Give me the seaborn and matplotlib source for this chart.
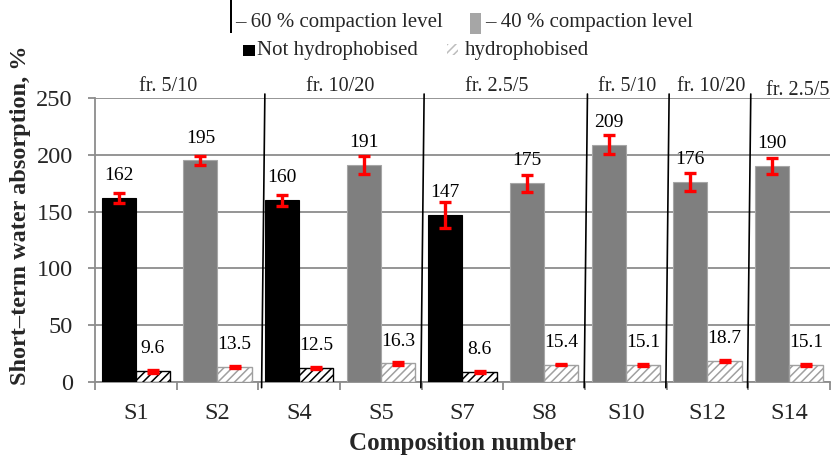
import numpy as np
import pandas as pd
import matplotlib
matplotlib.use("Agg")
import matplotlib.pyplot as plt
from matplotlib.patches import Rectangle
import seaborn as sns

# ---- data ----
compositions = ["S1", "S2", "S4", "S5", "S7", "S8", "S10", "S12", "S14"]
compaction = ["60", "40", "60", "40", "60", "40", "40", "40", "40"]
not_hydro = [162, 195, 160, 191, 147, 175, 209, 176, 190]
not_hydro_err = [4.2, 4.0, 4.8, 8.0, 11.5, 7.5, 8.0, 8.3, 7.0]
hydro = [9.6, 13.5, 12.5, 16.3, 8.6, 15.4, 15.1, 18.7, 15.1]
hydro_err = [1.3, 1.0, 0.9, 1.4, 1.0, 0.8, 1.0, 0.8, 0.8]
groups = ["fr. 5/10", "fr. 10/20", "fr. 2.5/5", "fr. 5/10", "fr. 10/20", "fr. 2.5/5"]
group_sizes = [2, 2, 2, 1, 1, 1]

sns.set_theme(style="white")
plt.rcParams["font.family"] = ["Liberation Serif", "DejaVu Serif"]
plt.rcParams["hatch.linewidth"] = 1.1

df = pd.DataFrame({
    "comp": compositions * 2,
    "kind": ["Not hydrophobised"] * 9 + ["hydrophobised"] * 9,
    "value": not_hydro + hydro,
})

W, H = 834, 463
fig = plt.figure(figsize=(W / 100, H / 100), dpi=100)
ax = fig.add_axes([95 / W, 1 - 382 / H, 735 / W, 284 / H])

sns.barplot(data=df, x="comp", y="value", hue="kind", order=compositions,
            hue_order=["Not hydrophobised", "hydrophobised"],
            width=0.84, gap=0, errorbar=None, legend=False, ax=ax, zorder=3)

GRAY = "#7f7f7f"
main_bars = ax.containers[0]
hyd_bars = ax.containers[1]
for i, p in enumerate(main_bars):
    if compaction[i] == "60":
        p.set_facecolor("black"); p.set_edgecolor("black")
    else:
        p.set_facecolor(GRAY); p.set_edgecolor("#a6a6a6")
    p.set_linewidth(0.8)
for i, p in enumerate(hyd_bars):
    p.set_facecolor("white")
    p.set_hatch("////")
    if compaction[i] == "60":
        p.set_edgecolor("black")
    else:
        p.set_edgecolor("#a0a0a0")
    p.set_linewidth(1.0)

# error bars and value labels
for bars, vals, errs in [(main_bars, not_hydro, not_hydro_err), (hyd_bars, hydro, hydro_err)]:
    xs = [p.get_x() + p.get_width() / 2 for p in bars]
    ax.errorbar(xs, vals, yerr=errs, fmt="none", ecolor="#ff0000", elinewidth=2.4,
                capsize=4.5, capthick=2.4, zorder=5)
    for x, v in zip(xs, vals):
        ax.annotate(f"{v:g}", (x, v), xytext=(0, 10), textcoords="offset points",
                    ha="center", va="bottom", fontsize=14, color="black", zorder=6)

ax.set_ylim(0, 250)
ax.set_xlim(-0.5, len(compositions) - 0.5)
ax.set_yticks(np.arange(0, 251, 50))
ax.yaxis.grid(True, color="#8c8c8c", linewidth=1.3, zorder=0)
ax.set_axisbelow(True)
for s in ["top", "right"]:
    ax.spines[s].set_visible(False)
for s in ["left", "bottom"]:
    ax.spines[s].set_color("#8c8c8c")
    ax.spines[s].set_linewidth(1.3)

ax.tick_params(axis="y", which="major", left=True, length=5, width=1.3, color="#8c8c8c",
               labelsize=17.5, pad=11)
ax.tick_params(axis="x", which="major", bottom=False, length=6, labelsize=17.5, pad=9)
ax.set_xticks(np.arange(-0.5, len(compositions), 1.0), minor=True)
ax.tick_params(axis="x", which="minor", bottom=True, length=6, width=1.3, color="#8c8c8c")

ax.set_xlabel("Composition number", fontsize=18, fontweight="bold", labelpad=6)
ax.set_ylabel("Short–term water absorption, %", fontsize=17.5, fontweight="bold")
ax.yaxis.set_label_coords(-0.087, 0.588)

# group separators and labels
bounds = np.cumsum(group_sizes)[:-1] - 0.5
for k, b in enumerate(bounds):
    dx = 0.05 if k == 0 else 0.0
    ax.plot([b + dx + 0.03, b + dx - 0.01], [253.5, -5], color="black", lw=1.2,
            clip_on=False, zorder=7)
starts = np.concatenate([[0], np.cumsum(group_sizes)[:-1]])
centers = starts + (np.array(group_sizes) - 1) / 2
nudge_x = [-0.1, 0.0, -0.08, 0.02, 0.04, 0.1]
nudge_y = [0.0, 0.0, 0.0, 0.0, 0.0, -0.012]
for g, c, nx, ny in zip(groups, centers, nudge_x, nudge_y):
    ax.text(c + nx, 1.04 + ny, g, transform=ax.get_xaxis_transform(), ha="center",
            va="center", fontsize=14.5, clip_on=False)

# legend (drawn manually)
def rect(x0, y0, x1, y1, **kw):
    fig.add_artist(Rectangle((x0 / W, 1 - y1 / H), (x1 - x0) / W, (y1 - y0) / H,
                             transform=fig.transFigure, **kw))

rect(230, 0, 232.5, 33, facecolor="black", edgecolor="none")
fig.text(235 / W, 1 - 22 / H, "– 60 % compaction level", fontsize=15, va="center", ha="left")
rect(470, 13, 481, 34, facecolor="#a6a6a6", edgecolor="none")
fig.text(485 / W, 1 - 22 / H, "– 40 % compaction level", fontsize=15, va="center", ha="left")
rect(243, 45, 255, 56, facecolor="black", edgecolor="none")
fig.text(257 / W, 1 - 50 / H, "Not hydrophobised", fontsize=15, va="center", ha="left")
rect(447, 44, 458, 55, facecolor="white", edgecolor="#bdbdbd", hatch="////", linewidth=0)
fig.text(465 / W, 1 - 50 / H, "hydrophobised", fontsize=15, va="center", ha="left")

fig.savefig("out.png", dpi=100)
